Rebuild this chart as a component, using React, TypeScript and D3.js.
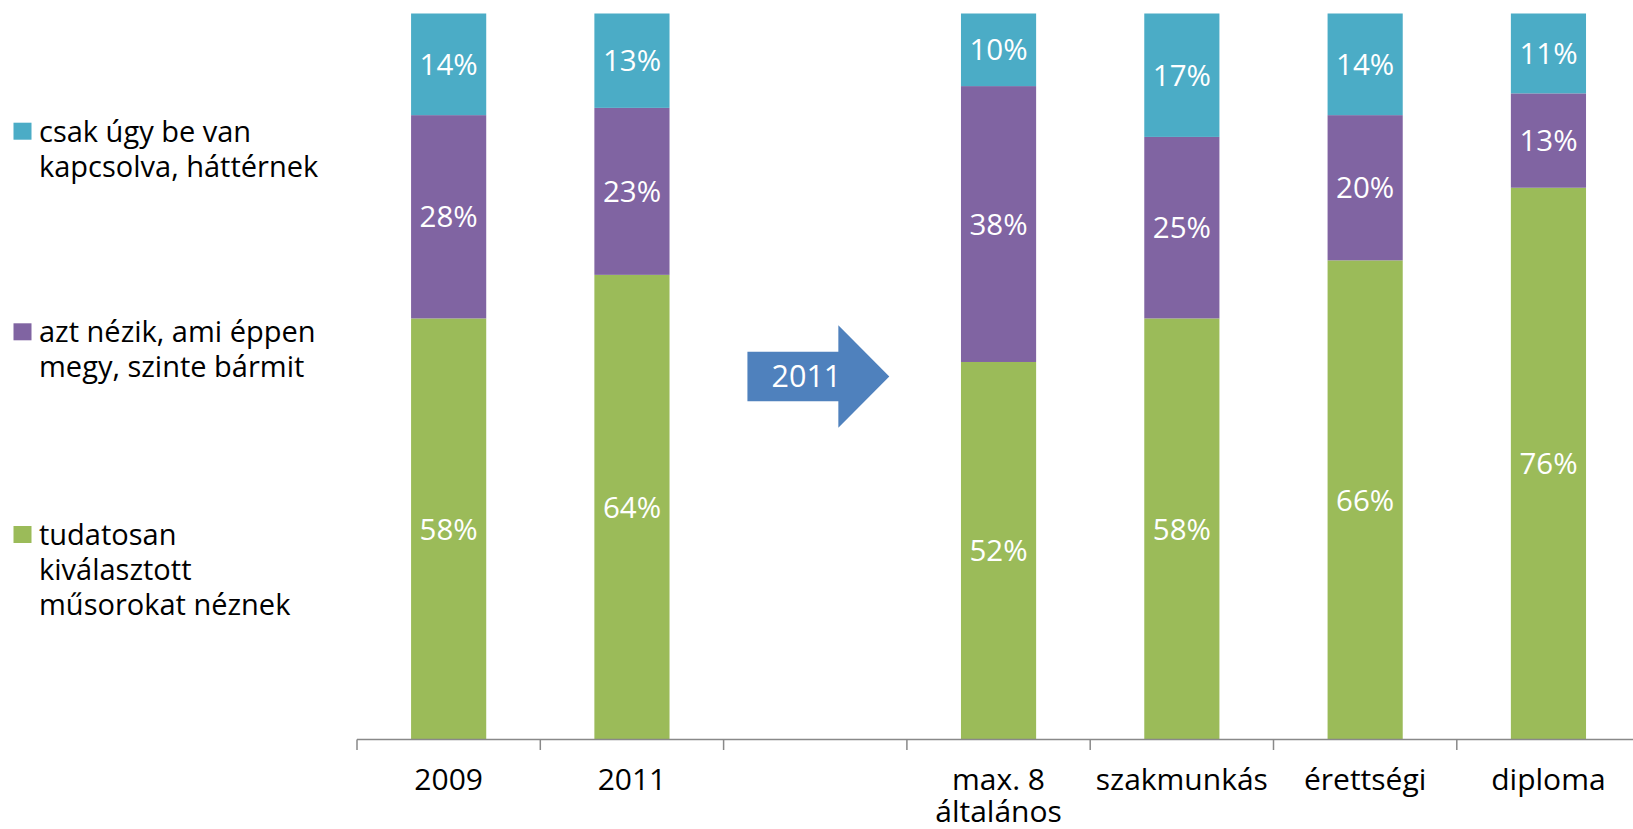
import React from "react";
import * as d3 from "d3";

const W = 1633;
const H = 829;

const categoryLabels: string[][] = [
  ["2009"],
  ["2011"],
  [],
  ["max. 8", "általános"],
  ["szakmunkás"],
  ["érettségi"],
  ["diploma"],
];
const tudatosan = [58, 64, null, 52, 58, 66, 76];
const aztNezik = [28, 23, null, 38, 25, 20, 13];
const csakUgy = [14, 13, null, 10, 17, 14, 11];

const seriesNames = [
  ["tudatosan", "kiválasztott", "műsorokat néznek"],
  ["azt nézik, ami éppen", "megy, szinte bármit"],
  ["csak úgy be van", "kapcsolva, háttérnek"],
];
const seriesColors = ["#9BBB59", "#8064A2", "#4BACC6"];
const arrowLabel = "2011";

const FONT = "'Open Sans', 'DejaVu Sans', sans-serif";

export default function App() {
  const idx = categoryLabels.map((_, i) => i);
  const x = d3.scaleBand<number>().domain(idx).range([357, 357 + 183.3 * 7]).padding(0);
  const y = d3.scaleLinear().domain([0, 100]).range([739.5, 13.5]);
  const step = x.step();
  const barW = step * 0.41;

  const rows = idx.map((i) => ({ i, s0: tudatosan[i], s1: aztNezik[i], s2: csakUgy[i] }));
  const stacked = d3
    .stack<any>()
    .keys(["s0", "s1", "s2"])
    .value((d, k) => (d[k] == null ? 0 : d[k]))(rows);

  // arrow in the empty band
  const gx = x(2)!;
  const ay = y(50);
  const aL = gx + step * 0.13;
  const aB = gx + step * 0.626;
  const aT = gx + step * 0.904;
  const arrowPath = `M${aL},${ay - 24.7} L${aB},${ay - 24.7} L${aB},${ay - 51.3} L${aT},${ay} L${aB},${ay + 51.3} L${aB},${ay + 24.7} L${aL},${ay + 24.7} Z`;

  const legendBase = [545, 342.3, 141.7];

  return (
    <svg
      width={W}
      height={H}
      style={{ position: "absolute", left: 0, top: 0, background: "#fff" }}
      fontFamily={FONT}
      fontWeight={500}
    >
      {stacked.map((layer, si) => (
        <g key={si}>
          {layer.map((d, ci) => {
            const v = (rows[ci] as any)["s" + si];
            if (v == null) return null;
            const cx = x(ci)! + step / 2;
            const yTop = y(d[1]);
            const yBot = y(d[0]);
            return (
              <g key={ci}>
                <rect x={cx - barW / 2} y={yTop} width={barW} height={yBot - yTop} fill={seriesColors[si]} />
                <text
                  x={cx}
                  y={(yTop + yBot) / 2}
                  dy="0.36em"
                  textAnchor="middle"
                  fill="#fff"
                  fontSize={29.5}
                >
                  {v}%
                </text>
              </g>
            );
          })}
        </g>
      ))}

      {/* axis */}
      <line x1={357} x2={W} y1={739.5} y2={739.5} stroke="#898989" strokeWidth={1.5} />
      {idx.concat([7]).map((i) => {
        const tx = 357 + step * i;
        return <line key={i} x1={tx} x2={tx} y1={739.5} y2={750} stroke="#898989" strokeWidth={1.5} />;
      })}
      {categoryLabels.map((lines, i) =>
        lines.map((l, j) => (
          <text
            key={i + "-" + j}
            x={x(i)! + step / 2}
            y={790 + j * 32}
            textAnchor="middle"
            fontSize={30}
            fill="#000"
          >
            {l}
          </text>
        ))
      )}

      {/* arrow */}
      <path d={arrowPath} fill="#4F81BD" />
      <text x={aL + 59} y={ay} dy="0.36em" textAnchor="middle" fill="#fff" fontSize={30.5}>
        {arrowLabel}
      </text>

      {/* legend */}
      {seriesNames.map((lines, si) => (
        <g key={si}>
          <rect x={13.5} y={legendBase[si] - 19} width={18} height={17} fill={seriesColors[si]} />
          {lines.map((l, j) => (
            <text key={j} x={39} y={legendBase[si] + j * 35} fontSize={29} fill="#000">
              {l}
            </text>
          ))}
        </g>
      ))}
    </svg>
  );
}
